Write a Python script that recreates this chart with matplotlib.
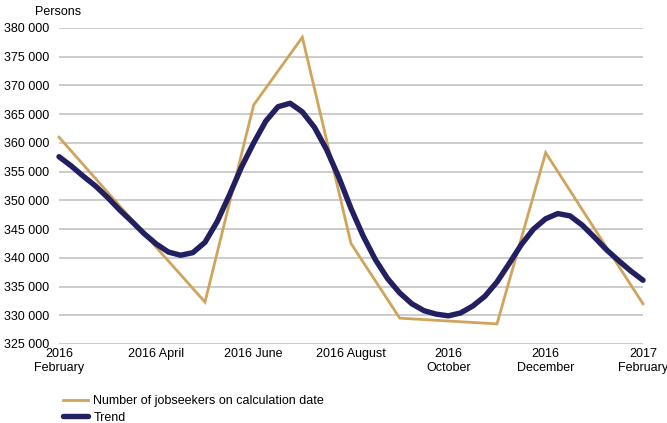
import matplotlib
matplotlib.use("Agg")
import matplotlib.pyplot as plt
from matplotlib.ticker import FuncFormatter
import numpy as np

plt.rcParams['font.family'] = ['Liberation Sans', 'DejaVu Sans']
plt.rcParams['font.size'] = 9

# months since February 2016
months = np.arange(13)
jobseekers = [361000, 351400, 341800, 332300, 366600, 378400, 342500,
              329500, 329000, 328500, 358300, 345100, 332000]

# trend, read every quarter month
trend_months = np.arange(0, 12.01, 0.25)
trend = [357600, 356000, 354200, 352500, 350500, 348300, 346300, 344200,
         342400, 341000, 340450, 340900, 342700, 346300, 350900, 355800,
         360000, 363800, 366300, 366900, 365400, 362700, 358800, 354000,
         348600, 343800, 339700, 336400, 333900, 332000, 330800, 330200,
         329900, 330400, 331600, 333300, 335800, 339000, 342300, 345000,
         346800, 347700, 347300, 345700, 343600, 341400, 339500, 337700,
         336100]

tick_pos = [0, 2, 4, 6, 8, 10, 12]
tick_labels = ["2016\nFebruary", "2016 April", "2016 June", "2016 August",
               "2016\nOctober", "2016\nDecember", "2017\nFebruary"]
y_ticks = np.arange(325000, 380001, 5000)

fig = plt.figure(figsize=(6.67, 4.23), dpi=100)
ax = fig.add_axes([59/667, 1 - 344/423, (643 - 59)/667, (344 - 28)/423])

ax.plot(months, jobseekers, color="#D0A45C", lw=2.0, clip_on=False,
        solid_joinstyle="miter", label="Number of jobseekers on calculation date")
ax.plot(trend_months, trend, color="#222060", lw=3.9, clip_on=False,
        solid_capstyle="round", solid_joinstyle="round", label="Trend")

ax.set_xlim(0, 12)
ax.set_ylim(325000, 380000)
ax.set_yticks(y_ticks)
ax.yaxis.set_major_formatter(FuncFormatter(lambda v, p: f"{int(v):,}".replace(",", " ")))
ax.set_xticks(tick_pos)
ax.set_xticklabels(tick_labels, linespacing=1.15)
ax.tick_params(axis="both", length=0, colors="black", labelsize=9)
ax.tick_params(axis="y", pad=7)
ax.tick_params(axis="x", pad=3)
ax.grid(axis="y", color="#C4C4C4", lw=1.2)
ax.set_axisbelow(True)
for s in ax.spines.values():
    s.set_visible(False)

fig.text(58/667, 1 - 12/423, "Persons", ha="center", va="center", fontsize=9)

fig.legend(loc="upper left", bbox_to_anchor=(57/667, 1 - 389/423), frameon=False,
           borderpad=0, handlelength=1.95, handletextpad=0.45, labelspacing=0.35,
           fontsize=9)

fig.savefig("out.png", dpi=100)
